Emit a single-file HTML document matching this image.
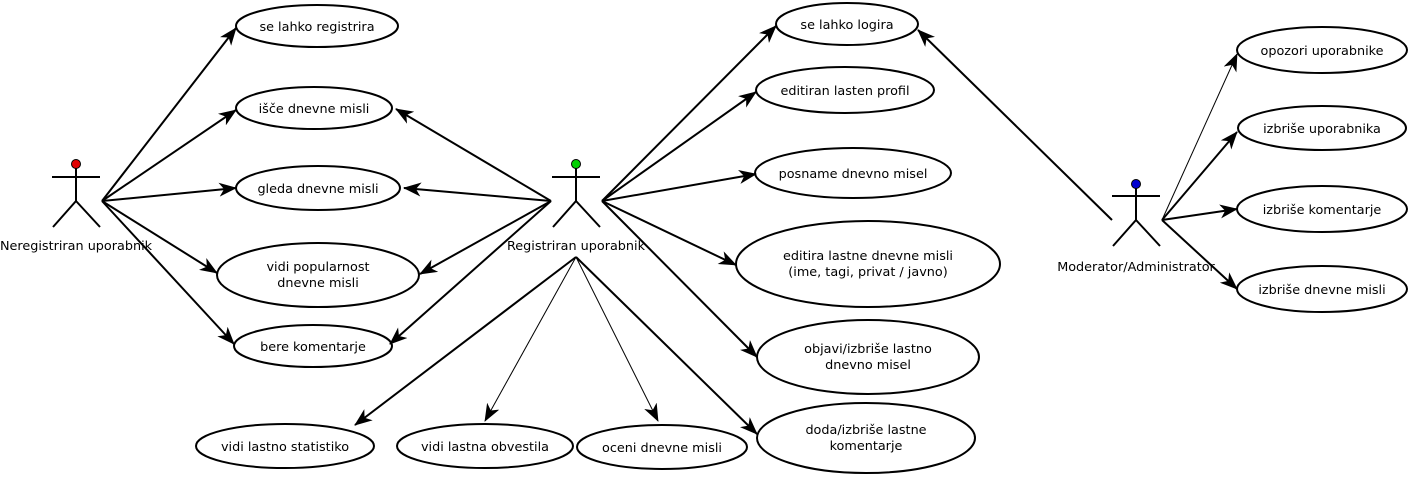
<!DOCTYPE html>
<html><head><meta charset="utf-8"><style>
body{margin:0;background:#fff}
svg{display:block}
text{font-family:"DejaVu Sans","Liberation Sans",sans-serif;font-size:12.8px;fill:#000}
</style></head><body>
<svg width="1414" height="482" viewBox="0 0 1414 482" xmlns="http://www.w3.org/2000/svg">
<defs>
<marker id="a" markerWidth="18" markerHeight="14" refX="17" refY="7" orient="auto" markerUnits="userSpaceOnUse">
<path d="M0,0 L18,7 L0,14 L5,7 Z" fill="#000"/>
</marker>
</defs>
<g fill="none" stroke="#000" stroke-width="2">
<ellipse cx="317" cy="26" rx="81" ry="21"/>
<ellipse cx="314" cy="108" rx="78" ry="21"/>
<ellipse cx="318" cy="188" rx="82" ry="22"/>
<ellipse cx="318" cy="275" rx="101" ry="32"/>
<ellipse cx="313" cy="346" rx="79" ry="21"/>
<ellipse cx="285" cy="446" rx="89" ry="22"/>
<ellipse cx="485" cy="446" rx="88" ry="22"/>
<ellipse cx="662" cy="447" rx="85" ry="22"/>
<ellipse cx="847" cy="24" rx="71" ry="21"/>
<ellipse cx="845" cy="90" rx="89" ry="23"/>
<ellipse cx="853" cy="173" rx="98" ry="25"/>
<ellipse cx="868" cy="264" rx="132" ry="43"/>
<ellipse cx="868" cy="357" rx="111" ry="37"/>
<ellipse cx="866" cy="438" rx="109" ry="35"/>
<ellipse cx="1322" cy="50" rx="85" ry="23"/>
<ellipse cx="1322" cy="128" rx="84" ry="22"/>
<ellipse cx="1322" cy="209" rx="85" ry="23"/>
<ellipse cx="1322" cy="289" rx="85" ry="23"/>
</g>
<g stroke="#000" stroke-width="2" fill="none" marker-end="url(#a)">
<line x1="102" y1="201" x2="236" y2="28"/>
<line x1="102" y1="201" x2="236" y2="110"/>
<line x1="102" y1="201" x2="236" y2="188"/>
<line x1="102" y1="201" x2="217" y2="273"/>
<line x1="102" y1="201" x2="234" y2="344"/>
<line x1="551" y1="201" x2="396" y2="109"/>
<line x1="551" y1="201" x2="404" y2="188"/>
<line x1="551" y1="201" x2="420" y2="274"/>
<line x1="551" y1="201" x2="390" y2="344"/>
<line x1="602" y1="201" x2="776" y2="26"/>
<line x1="602" y1="201" x2="756" y2="92"/>
<line x1="602" y1="201" x2="756" y2="174"/>
<line x1="602" y1="201" x2="736" y2="265"/>
<line x1="602" y1="201" x2="757" y2="357"/>
<line x1="576" y1="257" x2="757" y2="434"/>
<line x1="576" y1="257" x2="355" y2="425"/>
<line x1="576" y1="257" x2="485" y2="421" stroke-width="1"/>
<line x1="576" y1="257" x2="658" y2="421" stroke-width="1"/>
<line x1="1112" y1="220" x2="918" y2="30"/>
<line x1="1162" y1="220" x2="1237" y2="54" stroke-width="1"/>
<line x1="1162" y1="220" x2="1237" y2="132"/>
<line x1="1162" y1="220" x2="1237" y2="209"/>
<line x1="1162" y1="220" x2="1237" y2="289"/>
</g>
<g stroke="#000" stroke-width="2" fill="none">
<path d="M52,177 H100 M76,168 V201 L53,227 M76,201 L100,227"/>
<path d="M552,177 H600 M576,168 V201 L553,227 M576,201 L600,227"/>
<path d="M1112,196 H1160 M1136,188 V220 L1113,246 M1136,220 L1160,246"/>
</g>
<circle cx="76" cy="164" r="4.5" fill="#e00000" stroke="#000" stroke-width="1"/>
<circle cx="576" cy="164" r="4.5" fill="#00d000" stroke="#000" stroke-width="1"/>
<circle cx="1136" cy="184" r="4.5" fill="#0000d0" stroke="#000" stroke-width="1"/>
<g text-anchor="middle">
<text x="76" y="250">Neregistriran uporabnik</text>
<text x="576" y="250">Registriran uporabnik</text>
<text x="1136" y="271">Moderator/Administrator</text>
<text x="317" y="31">se lahko registrira</text>
<text x="314" y="113">išče dnevne misli</text>
<text x="318" y="193">gleda dnevne misli</text>
<text x="318" y="271">vidi popularnost</text>
<text x="318" y="287">dnevne misli</text>
<text x="313" y="351">bere komentarje</text>
<text x="285" y="451">vidi lastno statistiko</text>
<text x="485" y="451">vidi lastna obvestila</text>
<text x="662" y="452">oceni dnevne misli</text>
<text x="847" y="29">se lahko logira</text>
<text x="845" y="95">editiran lasten profil</text>
<text x="853" y="178">posname dnevno misel</text>
<text x="868" y="260">editira lastne dnevne misli</text>
<text x="868" y="276">(ime, tagi, privat / javno)</text>
<text x="868" y="353">objavi/izbriše lastno</text>
<text x="868" y="369">dnevno misel</text>
<text x="866" y="434">doda/izbriše lastne</text>
<text x="866" y="450">komentarje</text>
<text x="1322" y="55">opozori uporabnike</text>
<text x="1322" y="133">izbriše uporabnika</text>
<text x="1322" y="214">izbriše komentarje</text>
<text x="1322" y="294">izbriše dnevne misli</text>
</g>
</svg>
</body></html>
